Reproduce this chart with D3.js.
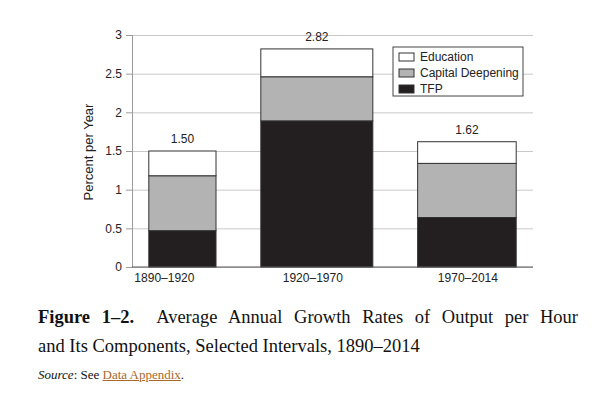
<!DOCTYPE html>
<html>
<head>
<meta charset="utf-8">
<script src="https://cdn.jsdelivr.net/npm/d3@7"></script>
<style>
  body { margin: 0; background: #fff; position: relative; width: 605px; height: 399px; overflow: hidden; }
  #chart { position: absolute; left: 0; top: 0; }
  .caption { position: absolute; left: 38px; width: 540px; font-family: "Liberation Serif", serif; color: #111; }
  #cap1 { top: 303px; font-size: 18.5px; line-height: 29px; text-align: justify; text-align-last: justify; }
  #cap2 { top: 332px; font-size: 18.5px; line-height: 29px; }
  #source { top: 368px; font-size: 13px; line-height: 14px; }
  #source a { color: #a8682a; text-decoration: underline; }
</style>
</head>
<body>
<div id="chart"></div>
<div class="caption" id="cap1"><b>Figure 1–2.</b>&nbsp; Average Annual Growth Rates of Output per Hour</div>
<div class="caption" id="cap2">and Its Components, Selected Intervals, 1890–2014</div>
<div class="caption" id="source"><i>Source</i>: See <a href="#">Data Appendix</a>.</div>
<script>
// intervals and their lengths in years (bar widths follow the span)
const periods = ["1890–1920", "1920–1970", "1970–2014"];
const spanYears = [30, 50, 44];

// components, percent per year
const tfp = [0.47, 1.89, 0.64];
const capitalDeepening = [0.71, 0.57, 0.70];
const education = [0.32, 0.36, 0.28];
const totalLabels = ["1.50", "2.82", "1.62"];

const seriesNames = ["Education", "Capital Deepening", "TFP"];
const yTicks = [0, 0.5, 1, 1.5, 2, 2.5, 3];

function drawChart() {
  const width = 605, height = 300;
  const margin = { top: 35, right: 72, bottom: 33, left: 132 };
  const plotW = width - margin.left - margin.right;
  const plotH = height - margin.top - margin.bottom;

  const svg = d3.select("#chart")
    .append("svg")
    .attr("width", width)
    .attr("height", height)
    .attr("style", "font-family:'Liberation Sans', Arial, sans-serif");

  const g = svg.append("g")
    .attr("transform", `translate(${margin.left},${margin.top})`);

  // stacked data
  const data = periods.map((p, i) => ({
    period: p, span: spanYears[i],
    TFP: tfp[i], "Capital Deepening": capitalDeepening[i], Education: education[i],
    label: totalLabels[i]
  }));

  // x is a year-based linear scale: bars as wide as their interval, fixed gaps
  const edge = 7.5, gap = 20;
  let cursor = edge;
  data.forEach(d => { d.x0 = cursor; cursor += d.span; d.x1 = cursor; cursor += gap; });
  const xMax = cursor - gap + edge;

  const x = d3.scaleLinear().domain([0, xMax]).range([0, plotW]);
  const y = d3.scaleLinear().domain([0, 3]).range([plotH, 0]);

  // gridlines
  const yGrid = g.append("g")
    .call(d3.axisLeft(y).tickValues(yTicks).tickSize(-plotW).tickFormat(""));
  yGrid.select(".domain").remove();
  yGrid.selectAll(".tick line").attr("stroke", "#c9c9c9");

  // y axis
  const yAxis = g.append("g")
    .call(d3.axisLeft(y).tickValues(yTicks).tickSize(6).tickPadding(4).tickFormat(d3.format("")));
  yAxis.select(".domain").attr("stroke", "#9a9a9a");
  yAxis.selectAll(".tick line").attr("stroke", "#9a9a9a");
  yAxis.selectAll("text").attr("font-size", 12).attr("fill", "#222");
  yAxis.attr("font-family", null);

  // y label
  g.append("text")
    .attr("transform", `translate(-39,${plotH / 2 + 1}) rotate(-90)`)
    .attr("text-anchor", "middle")
    .attr("font-size", 13)
    .attr("fill", "#222")
    .text("Percent per Year");

  // stacked bars
  const stack = d3.stack().keys(["TFP", "Capital Deepening", "Education"]);
  const layers = stack(data);
  const color = d3.scaleOrdinal()
    .domain(["TFP", "Capital Deepening", "Education"])
    .range(["#231f20", "#b3b3b3", "#ffffff"]);

  g.append("g")
    .selectAll("g")
    .data(layers)
    .join("g")
    .attr("fill", d => color(d.key))
    .selectAll("rect")
    .data(d => d)
    .join("rect")
    .attr("x", d => x(d.data.x0))
    .attr("width", d => x(d.data.x1) - x(d.data.x0))
    .attr("y", d => y(d[1]))
    .attr("height", d => y(d[0]) - y(d[1]))
    .attr("stroke", "#333")
    .attr("stroke-width", 1);

  // bottom axis line
  g.append("line")
    .attr("x1", 0).attr("x2", plotW)
    .attr("y1", plotH).attr("y2", plotH)
    .attr("stroke", "#555");

  // total labels
  g.append("g")
    .selectAll("text")
    .data(data)
    .join("text")
    .attr("x", d => x((d.x0 + d.x1) / 2))
    .attr("y", d => y(d.TFP + d["Capital Deepening"] + d.Education) - 8)
    .attr("text-anchor", "middle")
    .attr("font-size", 12)
    .attr("fill", "#222")
    .text(d => d.label);

  // period labels
  g.append("g")
    .selectAll("text")
    .data(data)
    .join("text")
    .attr("x", d => x((d.x0 + d.x1) / 2))
    .attr("dx", (d, i) => i === 0 ? -18 : (i === 1 ? -4 : 1))
    .attr("y", plotH + 15)
    .attr("text-anchor", "middle")
    .attr("font-size", 12)
    .attr("fill", "#222")
    .text(d => d.period);

  // legend
  const legend = g.append("g")
    .attr("transform", `translate(${plotW - 140},${47 - margin.top})`);
  legend.append("rect")
    .attr("width", 130).attr("height", 49)
    .attr("fill", "#fff")
    .attr("stroke", "#444");
  const items = legend.selectAll(".item")
    .data(seriesNames)
    .join("g")
    .attr("class", "item")
    .attr("transform", (d, i) => `translate(6,${6 + i * 16})`);
  items.append("rect")
    .attr("width", 15).attr("height", 8)
    .attr("fill", d => color(d))
    .attr("stroke", "#333");
  items.append("text")
    .attr("x", 21).attr("y", 8)
    .attr("font-size", 12)
    .attr("fill", "#222")
    .text(d => d);
}

drawChart();
</script>
</body>
</html>
